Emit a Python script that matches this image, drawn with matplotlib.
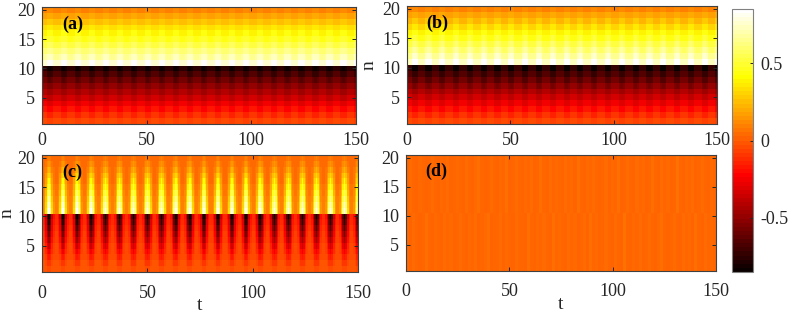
import numpy as np
import matplotlib
matplotlib.use("Agg")
import matplotlib.pyplot as plt

plt.rcParams['font.family'] = ['Liberation Serif', 'DejaVu Serif']

W, H = 789, 314
panel_names = ["(a)", "(b)", "(c)", "(d)"]
x_ticks = [0, 50, 100, 150]
y_ticks = [5, 10, 15, 20]
bar_ticks = [-0.5, 0, 0.5]
bar_labels = ["-0.5", "0", "0.5"]
V_MAX = 0.85

# rows n = 1 ... 20
n_rows = list(range(1, 21))
a_low = [-0.04, -0.10, -0.17, -0.25, -0.33, -0.41, -0.49, -0.57, -0.65, -0.75,
         0.75, 0.66, 0.59, 0.52, 0.45, 0.39, 0.32, 0.25, 0.18, 0.10]
a_high = [-0.07, -0.14, -0.22, -0.30, -0.38, -0.46, -0.55, -0.64, -0.73, -0.83,
          0.84, 0.74, 0.66, 0.58, 0.50, 0.43, 0.35, 0.28, 0.20, 0.12]
b_low = [-0.03, -0.09, -0.16, -0.24, -0.32, -0.40, -0.48, -0.56, -0.64, -0.73,
         0.73, 0.65, 0.58, 0.51, 0.44, 0.38, 0.31, 0.23, 0.16, 0.08]
b_high = [-0.07, -0.14, -0.23, -0.31, -0.39, -0.47, -0.56, -0.65, -0.74, -0.84,
          0.84, 0.75, 0.67, 0.59, 0.51, 0.44, 0.36, 0.29, 0.21, 0.13]
c_low = [-0.01, -0.02, -0.03, -0.04, -0.05, -0.06, -0.07, -0.09, -0.11, -0.13,
         0.10, 0.09, 0.08, 0.07, 0.06, 0.05, 0.05, 0.04, 0.04, 0.04]
c_high = [-0.05, -0.10, -0.17, -0.26, -0.36, -0.46, -0.56, -0.66, -0.76, -0.84,
          0.84, 0.76, 0.67, 0.58, 0.49, 0.40, 0.31, 0.22, 0.14, 0.08]

# one oscillation period sampled in time, repeated along t
stripe_weights = [0.0, 0.08, 0.32, 0.75, 1.0, 0.75, 0.32, 0.08, 0.0]
checker_weights = [0.0, 0.0, 0.1, 0.9, 1.0, 1.0, 0.9, 0.1, 0.0]
periods = 23
n_columns = 202

# panel (d): nearly flat field, column readings for both halves
d_upper = [0.03, 0.04, 0.03, 0.025, 0.035, 0.03, 0.025, 0.03, 0.045, 0.03,
           0.025, 0.035, 0.03, 0.04, 0.025, 0.03, 0.035, 0.03, 0.025, 0.04,
           0.03, 0.025, 0.035, 0.05, 0.03, 0.025, 0.03, 0.045, 0.03, 0.025,
           0.035, 0.03, 0.05, 0.025, 0.03, 0.04, 0.03, 0.025, 0.035, 0.03,
           0.045, 0.025, 0.03, 0.05, 0.03, 0.025, 0.045, 0.03, 0.035, 0.03,
           0.025, 0.04, 0.03, 0.035, 0.025, 0.05, 0.03, 0.025, 0.035, 0.03,
           0.045, 0.03, 0.025, 0.03, 0.04, 0.025, 0.035, 0.03, 0.05, 0.025,
           0.03, 0.04, 0.03, 0.025, 0.045, 0.03, 0.035, 0.025, 0.03, 0.05,
           0.03, 0.025, 0.04, 0.03, 0.035, 0.025, 0.03, 0.055, 0.03, 0.025,
           0.035, 0.03, 0.04, 0.025, 0.03, 0.045, 0.03, 0.025, 0.035, 0.03]
d_lower = [0.035, 0.025, 0.04, 0.03, 0.025, 0.03, 0.05, 0.03, 0.025, 0.035,
           0.03, 0.025, 0.04, 0.03, 0.035, 0.025, 0.03, 0.045, 0.03, 0.025,
           0.035, 0.03, 0.04, 0.025, 0.03, 0.035, 0.05, 0.025, 0.03, 0.03,
           0.045, 0.025, 0.035, 0.03, 0.025, 0.04, 0.03, 0.03, 0.025, 0.05,
           0.03, 0.025, 0.035, 0.03, 0.045, 0.03, 0.025, 0.05, 0.03, 0.035,
           0.03, 0.025, 0.045, 0.03, 0.035, 0.025, 0.03, 0.04, 0.025, 0.05,
           0.03, 0.035, 0.025, 0.03, 0.045, 0.03, 0.025, 0.04, 0.03, 0.025,
           0.055, 0.03, 0.025, 0.035, 0.03, 0.04, 0.025, 0.03, 0.045, 0.03,
           0.025, 0.035, 0.05, 0.03, 0.025, 0.03, 0.04, 0.03, 0.025, 0.045,
           0.03, 0.035, 0.025, 0.05, 0.03, 0.025, 0.04, 0.03, 0.035, 0.03]

# pixel boxes: left, top, right, bottom
panel_boxes = [(42, 7, 356, 124), (407, 6, 717, 124),
               (42, 155, 358, 272), (406, 155, 716, 271)]
bar_box = (732, 9, 753, 272)


def to_axes_rect(box):
    l, t, r, b = box
    return [l / W, 1 - b / H, (r - l) / W, (b - t) / H]


def stripes(low, high, pattern):
    weights = np.tile(pattern, periods)[:n_columns]
    low, high = np.array(low), np.array(high)
    return low[:, None] + (high - low)[:, None] * weights[None, :]


def flat_field():
    return np.array([d_lower if n <= 10 else d_upper for n in n_rows])


fields = [stripes(a_low, a_high, checker_weights),
          stripes(b_low, b_high, checker_weights),
          stripes(c_low, c_high, stripe_weights), flat_field()]

cmap64 = plt.get_cmap('hot', 64)
fig = plt.figure(figsize=(W / 100, H / 100), dpi=100)
frame = '#404040'
first_mesh = None
for i, (box, z, name) in enumerate(zip(panel_boxes, fields, panel_names)):
    ax = fig.add_axes(to_axes_rect(box))
    t_edges = np.linspace(0, 150, z.shape[1] + 1)
    n_edges = np.arange(0.5, 21, 1)
    use_cmap = 'hot' if i == 3 else cmap64
    mesh = ax.pcolormesh(t_edges, n_edges, z, cmap=use_cmap, vmin=-V_MAX, vmax=V_MAX,
                         shading='flat', rasterized=True)
    if first_mesh is None:
        first_mesh = mesh
    ax.set_xlim(0, 150)
    ax.set_ylim(0.5, 20.5)
    ax.set_xticks(x_ticks)
    ax.set_yticks(y_ticks)
    ax.tick_params(direction='in', length=3, width=0.7, top=True, right=True,
                   labelsize=13, colors='#262626')
    ax.tick_params(axis='x', pad=9 if i >= 2 else 6)
    ax.tick_params(axis='y', pad=5)
    for s in ax.spines.values():
        s.set_color(frame)
        s.set_linewidth(0.8)
    ax.text(14.5, 17.6, name, fontsize=13, fontweight='bold', ha='center',
            va='center', color='black')
    if i in (1, 2):
        ax.set_ylabel('n', fontsize=14, color='#262626')
        ax.yaxis.set_label_coords(-0.094 if i == 1 else -0.083, 0.5)
    if i in (2, 3):
        ax.set_xlabel('t', fontsize=14, color='#262626')
        ax.xaxis.set_label_coords(0.5, -0.215)

cax = fig.add_axes(to_axes_rect(bar_box))
cb = fig.colorbar(first_mesh, cax=cax)
cb.set_ticks(bar_ticks)
cb.set_ticklabels(bar_labels)
cb.ax.tick_params(direction='in', length=2.5, width=0.7, labelsize=13,
                  colors='#262626', pad=5)
cb.outline.set_edgecolor('#808080')
cb.outline.set_linewidth(0.8)

fig.savefig('out.png', dpi=100)
